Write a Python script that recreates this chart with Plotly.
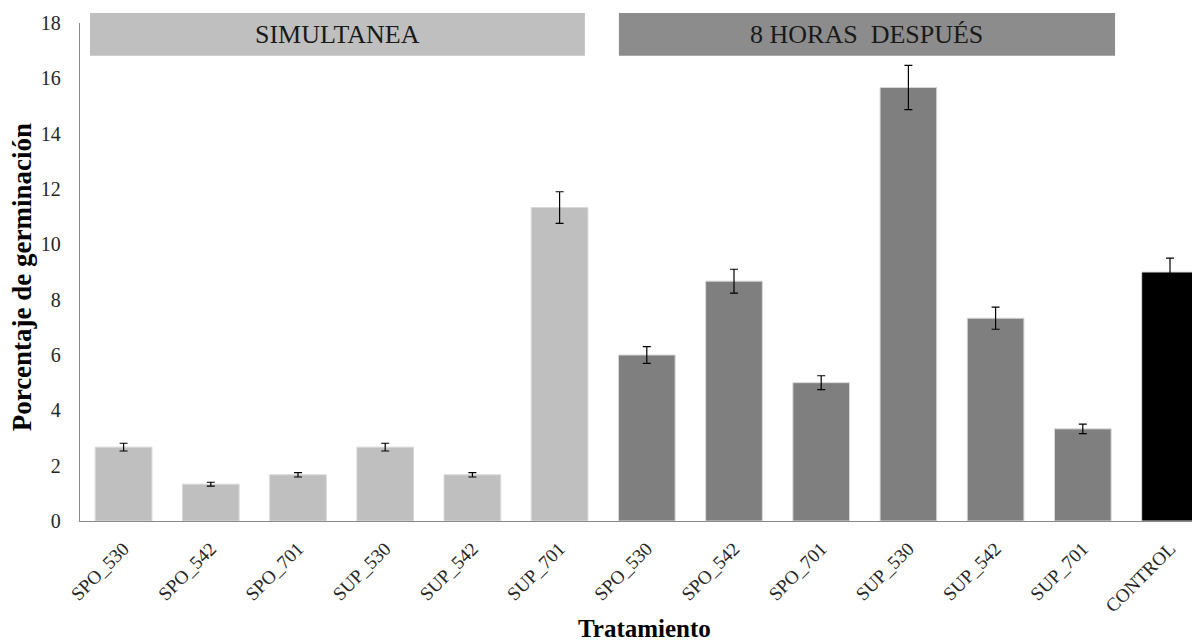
import plotly.graph_objects as go

# ---- data ----
categories = ["SPO_530", "SPO_542", "SPO_701", "SUP_530", "SUP_542", "SUP_701",
              "SPO_530", "SPO_542", "SPO_701", "SUP_530", "SUP_542", "SUP_701",
              "CONTROL"]
groups = ["SIMULTANEA"] * 6 + ["8 HORAS DESPUÉS"] * 6 + ["CONTROL"]
values = [2.67, 1.33, 1.67, 2.67, 1.67, 11.33,
          6.00, 8.67, 5.00, 15.67, 7.33, 3.33,
          9.00]
errors = [0.14, 0.07, 0.08, 0.14, 0.08, 0.57,
          0.30, 0.43, 0.25, 0.80, 0.40, 0.17,
          0.50]
y_ticks = [0, 2, 4, 6, 8, 10, 12, 14, 16, 18]

group_colors = {"SIMULTANEA": "#bfbfbf", "8 HORAS DESPUÉS": "#7f7f7f", "CONTROL": "#000000"}
band_colors = {"SIMULTANEA": "#bfbfbf", "8 HORAS DESPUÉS": "#8c8c8c"}
band_pad = {"SIMULTANEA": (0.385, 0.29), "8 HORAS DESPUÉS": (0.32, 0.37)}

x_pos = list(range(len(categories)))
bar_colors = [group_colors[g] for g in groups]

SERIF = "Liberation Serif"

fig = go.Figure()
fig.add_trace(go.Bar(
    x=x_pos, y=values,
    marker=dict(color=bar_colors, line=dict(color="#d9d9d9", width=1)),
    error_y=dict(type="data", array=errors, visible=True,
                 color="#000000", thickness=1.2, width=4),
    showlegend=False,
))

# group header bands
shapes = []
annotations = []
for g in ["SIMULTANEA", "8 HORAS DESPUÉS"]:
    idx = [i for i, gg in enumerate(groups) if gg == g]
    x0 = idx[0] - band_pad[g][0]
    x1 = idx[-1] + band_pad[g][1]
    shapes.append(dict(type="rect", xref="x", yref="paper",
                       x0=x0, x1=x1, y0=0.934, y1=1.020,
                       fillcolor=band_colors[g], line=dict(width=0), layer="below"))
    label = g.replace("HORAS DESPUÉS", "HORAS\u00a0 DESPUÉS")
    annotations.append(dict(x=(x0 + x1) / 2, y=0.977, xref="x", yref="paper",
                            text=label, showarrow=False,
                            font=dict(family=SERIF, size=26, color="#1a1a1a"),
                            xanchor="center", yanchor="middle"))

annotations.append(dict(x=-0.051, y=0.489, xref="paper", yref="paper",
                        text="<b>Porcentaje de germinación</b>", showarrow=False,
                        textangle=-90, font=dict(family=SERIF, size=27, color="#000000"),
                        xanchor="center", yanchor="middle"))
annotations.append(dict(x=0.504, y=-0.216, xref="paper", yref="paper",
                        text="<b>Tratamiento</b>", showarrow=False,
                        font=dict(family=SERIF, size=25, color="#000000"),
                        xanchor="center", yanchor="middle"))

fig.update_layout(
    width=1192, height=635,
    margin=dict(l=72, r=0, t=15, b=122),
    paper_bgcolor="white", plot_bgcolor="white",
    bargap=0.35,
    shapes=shapes, annotations=annotations,
    font=dict(family=SERIF, color="#262626"),
)
fig.update_xaxes(
    range=[-0.5, 12.344],
    tickmode="array", tickvals=x_pos, ticktext=categories,
    tickangle=-45, tickfont=dict(family=SERIF, size=19, color="#262626"),
    showline=True, linecolor="#898989", linewidth=1.3,
    showgrid=False, zeroline=False, ticks="", ticklabelstandoff=8,
)
fig.update_yaxes(
    range=[0, 18],
    tickmode="array", tickvals=y_ticks,
    tickfont=dict(family=SERIF, size=20, color="#262626"),
    showline=True, linecolor="#898989", linewidth=1.3,
    showgrid=False, zeroline=False, ticks="", ticklabelstandoff=14,
)

fig.write_html("out.html")
